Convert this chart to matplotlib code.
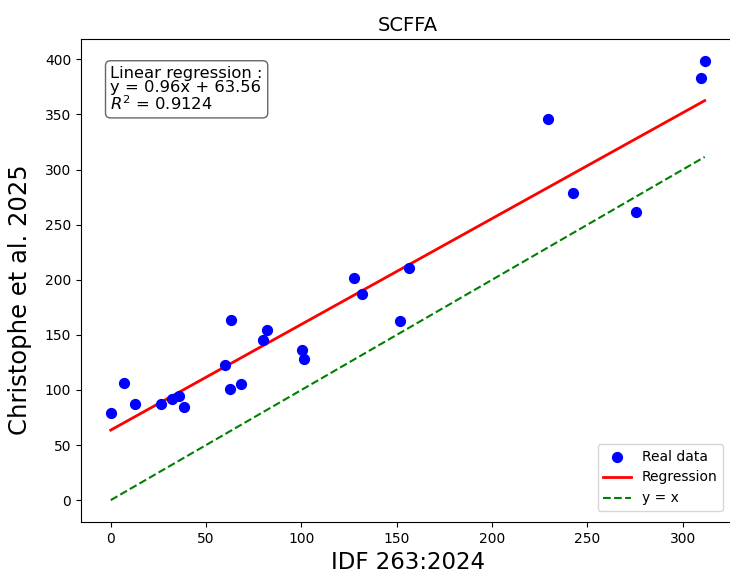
import matplotlib
matplotlib.use("Agg")
import matplotlib.pyplot as plt
import numpy as np

# Data
idf = [0, 7.0, 12.7, 26.4, 32.3, 36.0, 38.6, 59.7, 63.2, 62.5, 68.5, 79.7, 81.8,
       100.1, 101.2, 127.5, 131.7, 151.6, 156.3, 229.4, 242.7, 275.3, 309.7, 311.5]
christophe = [78.8, 106.4, 87.3, 87.3, 91.8, 94.5, 84.8, 122.7, 163.3, 100.6, 105.7, 145.5, 154.5,
              136.4, 128.5, 202.0, 187.0, 162.5, 210.6, 345.5, 278.5, 261.8, 383.4, 398.5]
slope = 0.96
intercept = 63.56
r2 = 0.9124

x = np.array(idf)
y = np.array(christophe)
xs = np.array([x.min(), x.max()])

fig = plt.figure(figsize=(7.3, 5.75), dpi=100)
ax = fig.add_axes([0.111, 0.092, 0.895, 0.840])

ax.scatter(x, y, color='blue', s=50, label='Real data', zorder=3)
ax.plot(xs, slope * xs + intercept, color='red', lw=2, label='Regression')
ax.plot(xs, xs, color='green', ls='--', lw=1.5, label='y = x')

ax.set_title('SCFFA', fontsize=14)
ax.set_xlabel('IDF 263:2024', fontsize=16.5)
ax.set_ylabel('Christophe et al. 2025', fontsize=17.5)
ax.yaxis.set_label_coords(-0.075, 0.46)
ax.tick_params(labelsize=10)
ax.spines['right'].set_visible(False)

ax.text(0.045, 0.945,
        f'Linear regression :\ny = {slope:.2f}x + {intercept:.2f}\n$R^2$ = {r2:.4f}',
        transform=ax.transAxes, fontsize=11.8, va='top', ha='left', linespacing=0.95,
        bbox=dict(boxstyle='round,pad=0.3', facecolor='white', edgecolor='black', alpha=0.6))

ax.legend(loc='lower right', fontsize=10, borderaxespad=0.8)

fig.savefig('out.png', dpi=100)
